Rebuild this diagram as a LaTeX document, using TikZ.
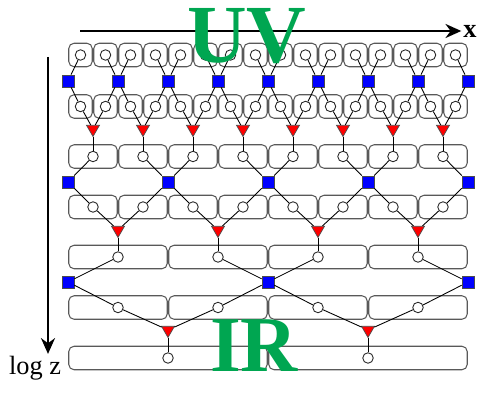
\documentclass[tikz,border=0pt]{standalone}
\usepackage{fontspec}
\setmainfont{Liberation Serif}
\usetikzlibrary{shapes.geometric, arrows.meta, positioning}
\definecolor{uvgreen}{RGB}{0,166,81}
\tikzset{
    cell/.style={draw=black!65, rectangle, rounded corners=3pt, line width=0.6pt, minimum height=0.47cm, inner sep=0pt},
    site/.style={draw=black!85, circle, fill=white, minimum size=0.21cm, inner sep=0pt, line width=0.5pt},
    disent/.style={draw=black!70, rectangle, fill=blue, minimum size=0.24cm, inner sep=0pt, line width=0.4pt},
    iso/.style={draw=black!70, regular polygon, regular polygon sides=3, shape border rotate=180, fill=red, minimum size=0.3cm, inner sep=0pt, line width=0.4pt},
    leg/.style={line width=0.5pt, draw=black},
    axis/.style={line width=1.3pt, draw=black, -{Stealth[length=9pt, width=8pt]}},
    scalelabel/.style={text=uvgreen, inner sep=0pt}
}

\begin{document}
\begin{tikzpicture}[x=0.02cm, y=-0.02cm]
    \useasboundingbox (0,0) rectangle (477,412);

    % Assi
    \coordinate (xorig) at (80,31);
    \coordinate (zorig) at (48,57);
    \node (xlab) [font=\bfseries\fontsize{15}{15}\selectfont, inner sep=1pt] at (470,31) {x};
    \node (zlab) [font=\fontsize{15}{15}\selectfont, inner sep=1pt] at (35,368) {log z};
    \draw [axis] (xorig) -- (xlab.west);
    \draw [axis] (zorig) -- (zorig |- zlab.north);

    % Livello 0: 16 siti
    \foreach \i in {0,...,15} {
        \node (boxa\i) [cell, minimum width=0.47cm] at (80.5+25*\i, 55) {};
        \node (a\i) [site] at (boxa\i) {};
        \node (boxb\i) [cell, minimum width=0.47cm] at (80.5+25*\i, 106.5) {};
        \node (b\i) [site] at (boxb\i) {};
    }
    \foreach \i in {0,...,8} \node (d\i) [disent] at (68+50*\i, 81) {};
    \foreach \i in {0,...,7} \node (w\i) [iso] at (93+50*\i, 129) {};

    % Livello 1: 8 siti
    \foreach \i in {0,...,7} {
        \node (boxc\i) [cell, minimum width=0.97cm] at (93+50*\i, 156.5) {};
        \node (c\i) [site] at (boxc\i) {};
        \node (boxf\i) [cell, minimum width=0.97cm] at (93+50*\i, 207) {};
        \node (f\i) [site] at (boxf\i) {};
    }
    \foreach \i in {0,...,4} \node (e\i) [disent] at (68+100*\i, 182) {};
    \foreach \i in {0,...,3} \node (v\i) [iso] at (118+100*\i, 230) {};

    % Livello 2: 4 siti
    \foreach \i in {0,...,3} {
        \node (boxg\i) [cell, minimum width=1.97cm] at (118+100*\i, 257) {};
        \node (g\i) [site] at (boxg\i) {};
        \node (boxk\i) [cell, minimum width=1.97cm] at (118+100*\i, 307.5) {};
        \node (k\i) [site] at (boxk\i) {};
    }
    \foreach \i in {0,...,2} \node (h\i) [disent] at (68+200*\i, 282) {};
    \foreach \i in {0,...,1} \node (q\i) [iso] at (168+200*\i, 330) {};

    % Livello 3: 2 siti
    \foreach \i in {0,...,1} {
        \node (boxr\i) [cell, minimum width=3.97cm] at (168+200*\i, 358) {};
        \node (r\i) [site] at (boxr\i) {};
    }

    % Gambe
    \foreach \i [evaluate=\i as \j using int(2*\i), evaluate=\i as \k using int(2*\i+1), evaluate=\i as \n using int(\i+1)] in {0,...,7} {
        \draw [leg] (a\j) -- (d\i) -- (b\j);
        \draw [leg] (a\k) -- (d\n) -- (b\k);
        \draw [leg] (b\j) -- (w\i) -- (b\k);
        \draw [leg] (w\i) -- (c\i);
    }
    \foreach \i [evaluate=\i as \j using int(2*\i), evaluate=\i as \k using int(2*\i+1), evaluate=\i as \n using int(\i+1)] in {0,...,3} {
        \draw [leg] (c\j) -- (e\i) -- (f\j);
        \draw [leg] (c\k) -- (e\n) -- (f\k);
        \draw [leg] (f\j) -- (v\i) -- (f\k);
        \draw [leg] (v\i) -- (g\i);
    }
    \foreach \i [evaluate=\i as \j using int(2*\i), evaluate=\i as \k using int(2*\i+1), evaluate=\i as \n using int(\i+1)] in {0,...,1} {
        \draw [leg] (g\j) -- (h\i) -- (k\j);
        \draw [leg] (g\k) -- (h\n) -- (k\k);
        \draw [leg] (k\j) -- (q\i) -- (k\k);
        \draw [leg] (q\i) -- (r\i);
    }

    % UV e IR
    \node (uv) [scalelabel, font=\bfseries\fontsize{47}{47}\selectfont] at (247,36) {UV};
    \node (ir) [scalelabel, font=\bfseries\fontsize{45}{45}\selectfont] at (254,346) {IR};

\end{tikzpicture}
\end{document}
